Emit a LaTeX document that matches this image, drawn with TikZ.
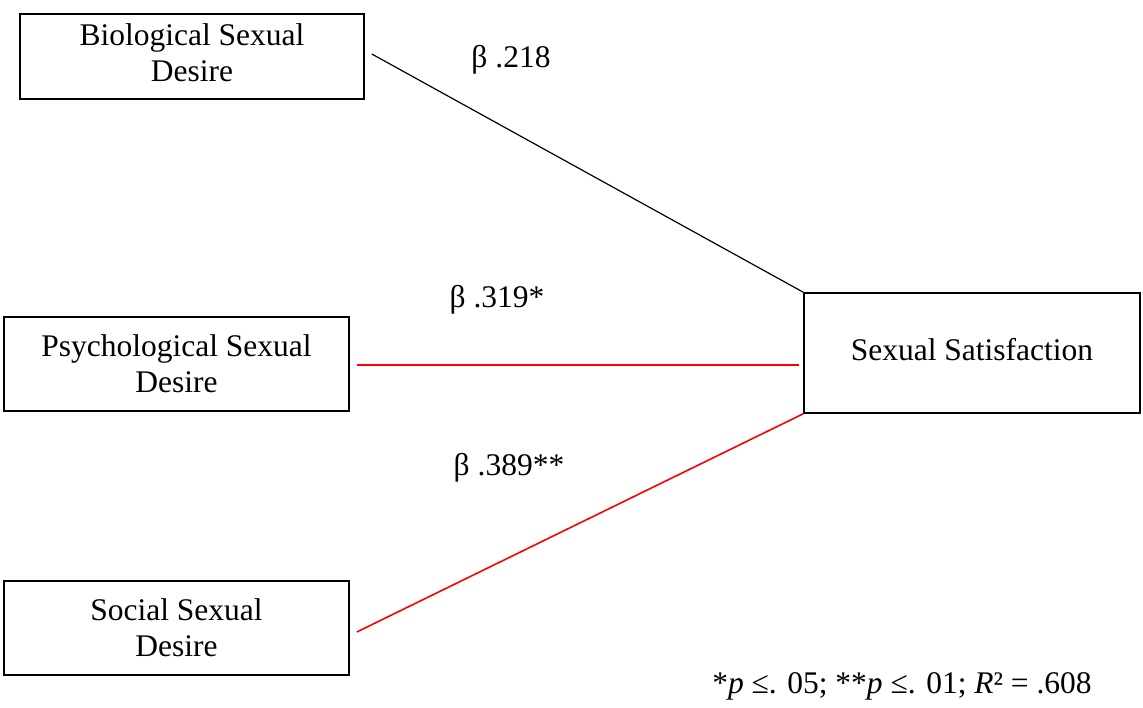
\documentclass[tikz,border=0pt]{standalone}
\usepackage{fontspec}
\setmainfont{Liberation Serif}
\begin{document}
\begin{tikzpicture}[x=1pt,y=-1pt,
  box/.style={draw=black,line width=1.6pt,align=center,inner sep=0pt,
    font=\fontsize{31.5}{36}\selectfont},
  lbl/.style={inner sep=0pt,font=\fontsize{31.5}{36}\selectfont},
  blk/.style={draw=black,line width=1.2pt},
  rd/.style={draw=red,line width=1.6pt}]
\useasboundingbox (0,0) rectangle (1143,708);
\node[box,minimum width=344pt,minimum height=85pt] (bio) at (192,56.5) {\raisebox{3pt}{\begin{tabular}{@{}c@{}}Biological Sexual\\Desire\end{tabular}}};
\node[box,minimum width=345pt,minimum height=94pt] (psy) at (176.5,364) {Psychological Sexual\\Desire};
\node[box,minimum width=345pt,minimum height=94pt] (soc) at (176.5,628) {Social Sexual\\Desire};
\node[box,minimum width=336pt,minimum height=120pt] (sat) at (972,353) {\raisebox{8pt}{Sexual Satisfaction}};
\draw[blk] ([xshift=7pt,yshift=2.5pt]bio.east) -- (sat.north west);
\draw[rd] ([xshift=7pt,yshift=-1pt]psy.east) -- ([xshift=-4pt,yshift=-1pt]sat.west |- psy.east);
\draw[rd] ([xshift=7pt,yshift=-4pt]soc.east) -- (sat.south west);
\node[lbl] (l1) at (511,60) {β .218};
\node[lbl] (l2) at (497,300) {β .319*};
\node[lbl] (l3) at (509,468) {β .389**};
\node[lbl] (fn) at (902,686) {*\textit{p} ≤. 05; **\textit{p} ≤. 01; \textit{R}² = .608};
\end{tikzpicture}
\end{document}
